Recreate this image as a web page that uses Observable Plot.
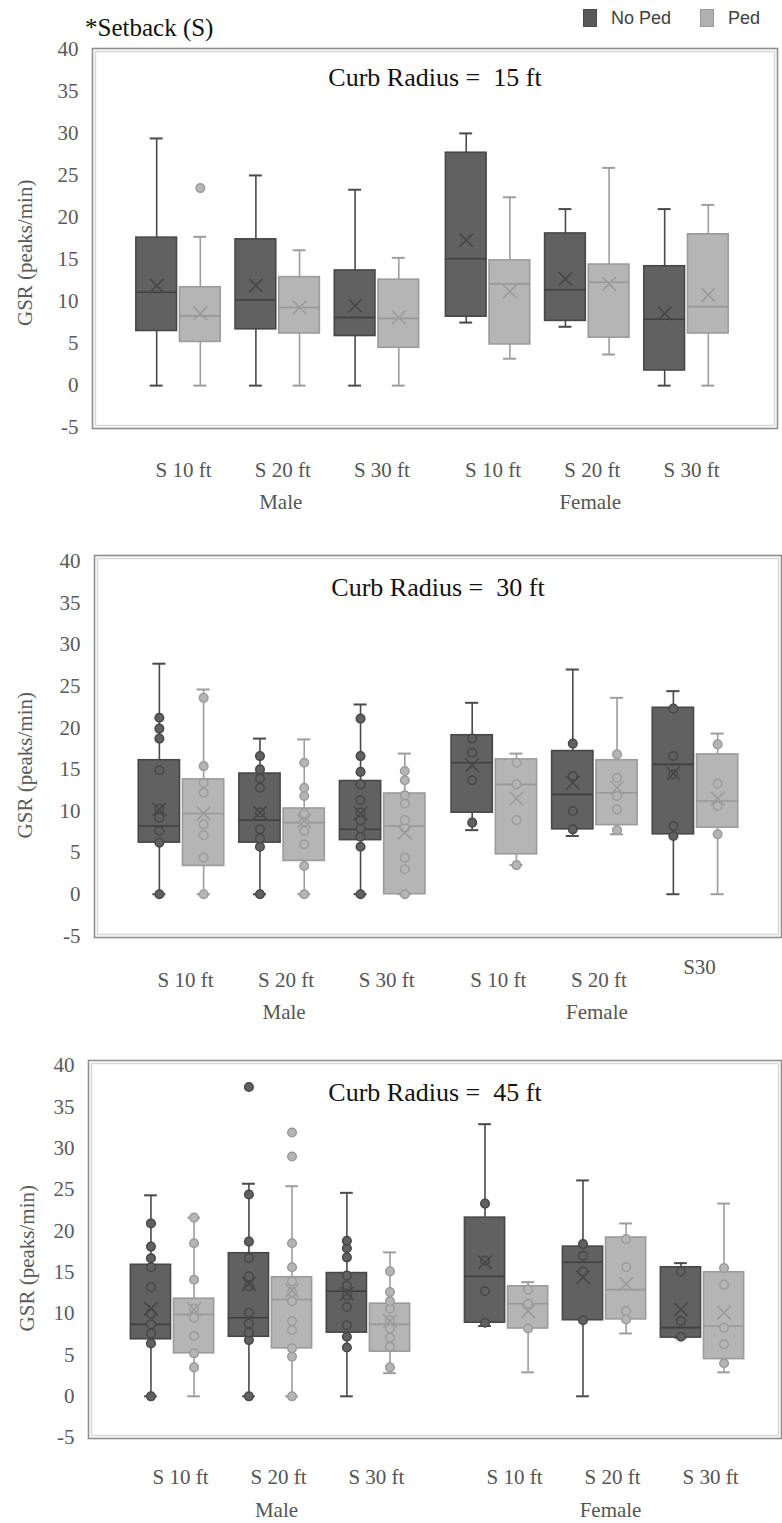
<!DOCTYPE html>
<html><head><meta charset="utf-8">
<script src="https://cdn.jsdelivr.net/npm/d3@7"></script>
<script src="https://cdn.jsdelivr.net/npm/@observablehq/plot@0.6"></script>
<style>
body{margin:0;background:#fff;}
#wrap{position:relative;width:782px;height:1523px;overflow:hidden;background:#fff;}
.panel{position:absolute;left:0;}
#title{position:absolute;left:85px;top:13px;font-family:"Liberation Serif",serif;font-size:25px;color:#111;line-height:30px;white-space:nowrap;}
.lg{position:absolute;font-family:"Liberation Sans",sans-serif;font-size:18px;color:#404040;line-height:20px;top:8px;}
.sw{position:absolute;top:9px;width:14px;height:18px;box-sizing:border-box;}
</style></head><body>
<div id="wrap">
  <div id="title">*Setback (S)</div>
  <div class="sw" style="left:583px;background:#595959;border:1px solid #4a4a4a;"></div>
  <div class="lg" style="left:611px;">No Ped</div>
  <div class="sw" style="left:700px;background:#b0b0b0;border:1px solid #999;"></div>
  <div class="lg" style="left:728px;">Ped</div>
</div>
<script>
// ---- categories & labels ----
const setbacks = ["S 10 ft", "S 20 ft", "S 30 ft", "S 10 ft", "S 20 ft", "S 30 ft"];
const setbacks30 = ["S 10 ft", "S 20 ft", "S 30 ft", "S 10 ft", "S 20 ft", "S30"];
const genders = ["Male", "Female"];
const seriesNames = ["No Ped", "Ped"];
const panelTitles = ["Curb Radius =\u00a0 15 ft", "Curb Radius =\u00a0 30 ft", "Curb Radius =\u00a0 45 ft"];
const yLabel = "GSR (peaks/min)";
const yTicks = [-5, 0, 5, 10, 15, 20, 25, 30, 35, 40];

// order of 12 boxes: M S10 NoPed, M S10 Ped, M S20 NoPed, M S20 Ped, M S30 NoPed, M S30 Ped,
//                    F S10 NoPed, F S10 Ped, F S20 NoPed, F S20 Ped, F S30 NoPed, F S30 Ped
// ---- Curb radius 15 ft ----
const r15Min  = [0, 0, 0, 0, 0, 0, 7.5, 3.2, 7.0, 3.7, 0, 0];
const r15Q1   = [6.5, 5.2, 6.7, 6.2, 5.9, 4.5, 8.2, 4.9, 7.7, 5.7, 1.8, 6.2];
const r15Med  = [11.1, 8.3, 10.2, 9.3, 8.1, 8.0, 15.1, 12.1, 11.4, 12.3, 7.9, 9.4];
const r15Q3   = [17.6, 11.7, 17.4, 12.9, 13.7, 12.6, 27.7, 14.9, 18.1, 14.4, 14.2, 18.0];
const r15Max  = [29.4, 17.7, 25.0, 16.1, 23.3, 15.2, 30.0, 22.4, 21.0, 25.9, 21.0, 21.5];
const r15Mean = [11.9, 8.6, 11.9, 9.3, 9.5, 8.1, 17.3, 11.2, 12.7, 12.1, 8.6, 10.8];
const r15Points = [[], [23.5], [], [], [], [], [], [], [], [], [], []];

// ---- Curb radius 30 ft ----
const r30Min  = [0, 0, 0, 0, 0, 0, 7.7, 3.5, 7.0, 7.2, 0, 0];
const r30Q1   = [6.2, 3.4, 6.2, 4.0, 6.5, 0, 9.8, 4.8, 7.8, 8.3, 7.2, 8.0];
const r30Med  = [8.2, 9.7, 8.9, 8.6, 7.8, 8.2, 15.8, 13.2, 12.0, 12.2, 15.6, 11.2];
const r30Q3   = [16.1, 13.8, 14.5, 10.3, 13.6, 12.1, 19.1, 16.2, 17.2, 16.1, 22.4, 16.8];
const r30Max  = [27.7, 24.6, 18.7, 18.6, 22.8, 16.9, 23.0, 16.9, 27.0, 23.6, 24.4, 19.3];
const r30Mean = [10.2, 9.7, 9.8, 8.8, 9.7, 7.4, 15.5, 11.5, 13.4, 12.8, 14.5, 11.5];
const r30Points = [
  [0, 6.2, 7.6, 9.2, 10.3, 14.9, 18.7, 19.9, 21.2],
  [0, 4.4, 7.1, 8.4, 12.2, 13.4, 15.4, 23.6],
  [0, 5.7, 6.7, 7.8, 9.8, 12.8, 13.9, 15.0, 16.6],
  [0, 3.4, 6.0, 7.6, 8.7, 9.7, 11.8, 12.8, 15.8],
  [0, 5.7, 6.9, 7.9, 8.9, 9.8, 11.3, 13.2, 14.7, 16.6, 21.1],
  [0, 3.0, 4.4, 8.0, 8.9, 10.9, 11.9, 13.7, 14.8],
  [8.6, 13.7, 17.0, 18.7],
  [3.5, 8.9, 13.2, 15.8],
  [7.8, 10.0, 14.2, 18.1],
  [7.7, 10.2, 11.8, 14.0, 16.8],
  [7.0, 8.2, 14.4, 16.6, 22.3],
  [7.2, 10.6, 13.3, 18.0]
];

// ---- Curb radius 45 ft ----
const r45Min  = [0, 0, 0, 0, 0, 2.8, 8.5, 2.9, 0, 7.6, 7.1, 2.9];
const r45Q1   = [6.9, 5.2, 7.2, 5.8, 7.7, 5.4, 8.9, 8.2, 9.2, 9.3, 7.1, 4.5];
const r45Med  = [8.7, 9.9, 9.5, 11.7, 12.7, 8.7, 14.5, 11.2, 16.2, 12.9, 8.3, 8.5];
const r45Q3   = [15.9, 11.8, 17.3, 14.4, 14.9, 11.2, 21.6, 13.3, 18.1, 19.2, 15.6, 15.0];
const r45Max  = [24.3, 21.6, 25.7, 25.4, 24.6, 17.4, 32.9, 13.8, 26.1, 20.9, 16.1, 23.3];
const r45Mean = [10.6, 10.5, 13.6, 12.8, 12.4, 9.1, 16.2, 10.3, 14.4, 13.6, 10.5, 10.1];
const r45Points = [
  [0, 6.4, 7.6, 8.7, 10.0, 13.2, 15.6, 16.7, 18.1, 20.9],
  [3.5, 5.2, 7.3, 9.5, 10.6, 14.1, 18.5, 21.6],
  [0, 6.8, 7.7, 8.8, 10.1, 13.3, 14.5, 16.7, 18.7, 24.4, 37.4],
  [0, 4.8, 5.8, 8.0, 9.1, 11.5, 12.6, 13.9, 15.6, 18.5, 29.0, 31.9],
  [5.9, 7.2, 8.6, 10.8, 12.2, 13.4, 14.6, 16.8, 17.9, 18.8],
  [3.5, 6.0, 7.1, 8.2, 9.2, 10.6, 11.5, 12.6, 15.1],
  [8.9, 12.7, 16.4, 23.3],
  [8.2, 11.2, 12.9],
  [9.2, 15.1, 17.0, 18.4],
  [9.3, 10.3, 15.6, 19.0],
  [7.2, 9.1, 15.1],
  [4.0, 6.3, 8.3, 13.5, 15.5]
];

// ---- styling (not data) ----
const STY = [
  {fill: "#616161", stroke: "#474747", line: "#4a4a4a", med: "#3f3f3f"},
  {fill: "#b5b5b5", stroke: "#9b9b9b", line: "#9d9d9d", med: "#989898"}
];

function makePanel(cfg) {
  const slot = c => c + (c >= 3 ? cfg.gap : 0);
  const boxes = d3.range(12).map(i => ({
    cat: Math.floor(i / 2), s: i % 2,
    min: cfg.min[i], q1: cfg.q1[i], med: cfg.med[i], q3: cfg.q3[i], max: cfg.max[i], mean: cfg.mean[i]
  }));
  const pts = [];
  cfg.points.forEach((arr, i) => arr.forEach(v => pts.push({cat: Math.floor(i / 2), s: i % 2, v})));
  const X = d => slot(d.cat) + (d.s === 0 ? -0.22 : 0.22);
  const bw = 0.205, cw = 0.065;
  const marks = [
    Plot.frame({stroke: "#8e8e8e", strokeWidth: 1.6}),
    Plot.frame({stroke: "#d8d8d8", strokeWidth: 1.5, inset: 3})
  ];
  for (const s of [0, 1]) {
    const st = STY[s];
    const B = boxes.filter(d => d.s === s);
    const P = pts.filter(d => d.s === s);
    marks.push(
      Plot.ruleX(B, {x: X, y1: "min", y2: "max", stroke: st.line, strokeWidth: 1.6}),
      Plot.ruleY(B, {y: "max", x1: d => X(d) - cw, x2: d => X(d) + cw, stroke: st.line, strokeWidth: 2}),
      Plot.ruleY(B, {y: "min", x1: d => X(d) - cw, x2: d => X(d) + cw, stroke: st.line, strokeWidth: 2}),
      Plot.rect(B, {x1: d => X(d) - bw, x2: d => X(d) + bw, y1: "q1", y2: "q3", fill: st.fill, stroke: st.stroke, strokeWidth: 1.6}),
      Plot.ruleY(B, {y: "med", x1: d => X(d) - bw, x2: d => X(d) + bw, stroke: st.med, strokeWidth: 1.6}),
      Plot.dot(P, {x: X, y: "v", r: 4.3, fill: st.fill, stroke: st.stroke, strokeWidth: 1.5}),
      Plot.dot(B, {x: X, y: "mean", symbol: "times", r: 6.2, stroke: st.stroke, strokeWidth: 1.6})
    );
  }
  const labels = cfg.labels;
  const normal = labels.map((t, i) => ({t, i})).filter(d => d.t !== "S30");
  const raised = labels.map((t, i) => ({t, i})).filter(d => d.t === "S30");
  marks.push(
    Plot.text([cfg.title], {frameAnchor: "top", dy: cfg.titleDy, text: d => d, fontSize: 26, fill: "#111", lineAnchor: "middle"}),
    Plot.text([yLabel], {y: () => cfg.yLabelAt, frameAnchor: "left", dx: cfg.yLabelDx, rotate: -90, text: d => d,
      textAnchor: "middle", lineAnchor: "middle", fontSize: 21, fill: "#5a5a5a"}),
    Plot.text(normal, {x: d => slot(d.i), frameAnchor: "bottom", dy: cfg.labDy, dx: cfg.labDx, text: "t",
      fontSize: 21, fill: "#555", lineAnchor: "middle"}),
    Plot.text(raised, {x: d => slot(d.i), frameAnchor: "bottom", dy: cfg.labDy - 13, dx: cfg.labDx, text: "t",
      fontSize: 21, fill: "#555", lineAnchor: "middle"}),
    Plot.text(genders, {x: (d, i) => slot(i * 3 + 1), frameAnchor: "bottom", dy: cfg.genDy, dx: cfg.labDx - 2, text: d => d,
      fontSize: 21, fill: "#555", lineAnchor: "middle"})
  );
  const chart = Plot.plot({
    width: 782, height: cfg.height,
    marginLeft: cfg.left, marginRight: 782 - cfg.right, marginTop: 10, marginBottom: cfg.height - 10 - cfg.frameH,
    x: {type: "linear", domain: [0, 5 + cfg.gap], range: cfg.xRange, axis: null},
    y: {domain: cfg.yDomain, ticks: yTicks, tickSize: 0, tickPadding: 14, tickFormat: d => String(d), label: null},
    style: {fontFamily: "'Liberation Serif', serif", fontSize: "21px", color: "#5a5a5a", background: "transparent", overflow: "visible"},
    marks
  });
  chart.classList.add("panel");
  chart.style.top = cfg.top + "px";
  chart.style.position = "absolute";
  document.getElementById("wrap").appendChild(chart);
}

makePanel({
  title: panelTitles[0], labels: setbacks,
  min: r15Min, q1: r15Q1, med: r15Med, q3: r15Q3, max: r15Max, mean: r15Mean, points: r15Points,
  gap: 0.12, xRange: [178, 686], left: 92, right: 777, top: 38, height: 480, frameH: 380,
  yDomain: [-5.1, 40.1], titleDy: 29, yLabelAt: 15.8, yLabelDx: -67, labDy: 42, labDx: 5, genDy: 74
});
makePanel({
  title: panelTitles[1], labels: setbacks30,
  min: r30Min, q1: r30Q1, med: r30Med, q3: r30Q3, max: r30Max, mean: r30Mean, points: r30Points,
  gap: 0.11, xRange: [181, 695], left: 94, right: 781, top: 545, height: 482, frameH: 382,
  yDomain: [-5.2, 40.7], titleDy: 32, yLabelAt: 15.5, yLabelDx: -69, labDy: 43, labDx: 4, genDy: 75
});
makePanel({
  title: panelTitles[2], labels: setbacks,
  min: r45Min, q1: r45Q1, med: r45Med, q3: r45Q3, max: r45Max, mean: r45Mean, points: r45Points,
  gap: 0.41, xRange: [172, 702], left: 88, right: 781, top: 1050, height: 473, frameH: 378,
  yDomain: [-5.1, 40.6], titleDy: 32, yLabelAt: 16.7, yLabelDx: -61, labDy: 39, labDx: 8, genDy: 72
});
</script>
</body></html>
